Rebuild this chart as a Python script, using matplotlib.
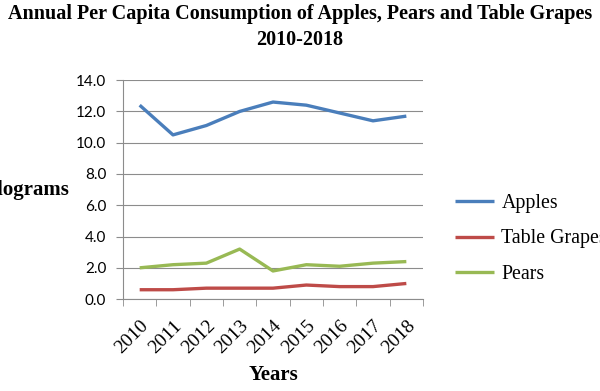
import matplotlib.pyplot as plt
from matplotlib.ticker import FixedLocator, NullFormatter

years = ['2010', '2011', '2012', '2013', '2014', '2015', '2016', '2017', '2018']
apples = [12.4, 10.5, 11.1, 12.0, 12.6, 12.4, 11.9, 11.4, 11.7]
grapes = [0.6, 0.6, 0.7, 0.7, 0.7, 0.9, 0.8, 0.8, 1.0]
pears = [2.0, 2.2, 2.3, 3.2, 1.8, 2.2, 2.1, 2.3, 2.4]
y_ticks = [0, 2, 4, 6, 8, 10, 12, 14]

serif = 'Liberation Serif'
sans = 'Lato'

fig = plt.figure(figsize=(6, 3.91), dpi=100)
ax = fig.add_axes([0.205, 0.235, 0.5, 0.56])

x = list(range(len(years)))
ax.plot(x, apples, color='#4A7EBB', lw=2.4, label='Apples', solid_capstyle='butt')
ax.plot(x, grapes, color='#BE4B48', lw=2.4, label='Table Grapes', solid_capstyle='butt')
ax.plot(x, pears, color='#98B954', lw=2.4, label='Pears', solid_capstyle='butt')

ax.set_xlim(-0.5, len(years) - 0.5)
ax.set_ylim(0, 14)
ax.set_yticks(y_ticks)
ax.set_yticklabels([f'{v:.1f}' for v in y_ticks], fontfamily=sans, fontsize=11)
ax.yaxis.grid(True, color='#8c8c8c', lw=0.8)
ax.set_axisbelow(True)

ax.set_xticks(x)
ax.set_xticklabels(years, rotation=45, ha='right', rotation_mode='anchor',
                   fontfamily=serif, fontsize=14)
ax.tick_params(axis='x', which='major', length=0, pad=13)
ax.xaxis.set_minor_locator(FixedLocator([i - 0.5 for i in range(len(years) + 1)]))
ax.xaxis.set_minor_formatter(NullFormatter())
ax.tick_params(axis='x', which='minor', length=5, color='#8c8c8c', direction='out')
ax.tick_params(axis='y', length=5, color='#8c8c8c', pad=7)

for s in ['top', 'right']:
    ax.spines[s].set_visible(False)
for s in ['left', 'bottom']:
    ax.spines[s].set_color('#8c8c8c')
    ax.spines[s].set_linewidth(0.8)

fig.text(273 / 600, 1 - 375 / 391, 'Years', ha='center', va='center',
         fontfamily=serif, fontweight='bold', fontsize=15)

fig.text(0.5, 0.99, 'Annual Per Capita Consumption of Apples, Pears and Table Grapes\n2010-2018',
         ha='center', va='top', fontfamily=serif, fontweight='bold', fontsize=14.5,
         linespacing=1.4)
fig.text(70 / 600, 1 - 190 / 391, 'Kilograms', ha='right', va='center',
         fontfamily=serif, fontweight='bold', fontsize=15)

leg = fig.legend(loc='center left', bbox_to_anchor=(0.728, 1 - 239 / 391),
                 frameon=False, prop={'family': serif, 'size': 14.3},
                 handlelength=2.0, handletextpad=0.35, labelspacing=0.82)

fig.savefig('out.png', dpi=100)
